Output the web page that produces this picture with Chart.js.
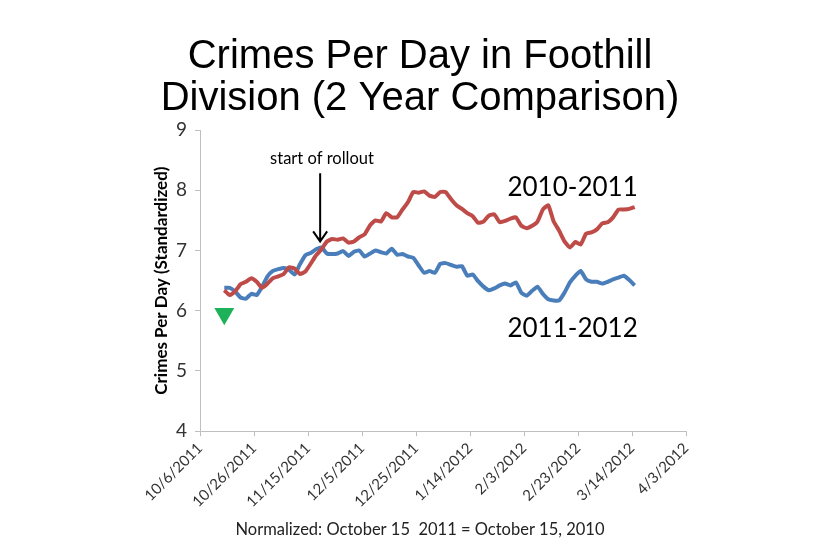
<!DOCTYPE html>
<html>
<head>
<meta charset="utf-8">
<title>Crimes Per Day in Foothill Division</title>
<script src="https://cdn.jsdelivr.net/npm/chart.js@4.4.1/dist/chart.umd.min.js"></script>
<style>
  body { margin: 0; background: #fff; }
  #caja { width: 840px; height: 560px; }
</style>
</head>
<body>
<div id="caja"><canvas id="graf" width="840" height="560"></canvas></div>
<script>
// dias desde 10/6/2011 (eje x)
let dias = [9, 11, 13, 15, 17, 19, 21, 23, 25, 27, 29, 31, 33, 35, 37, 39, 41, 43, 45, 47,
  49, 51, 53, 55, 57, 59, 61, 63, 65, 67, 69, 71, 73, 75, 77, 79, 81, 83, 85, 87,
  89, 91, 93, 95, 97, 99, 101, 103, 105, 107, 109, 111, 113, 115, 117, 119, 121, 123, 125, 127,
  129, 131, 133, 135, 137, 139, 141, 143, 145, 147, 149, 151, 153, 155, 157, 159, 161];

let nombres = ['2010-2011', '2011-2012'];

let valores2010 = [6.34, 6.26, 6.32, 6.44, 6.48, 6.54, 6.48, 6.38, 6.45, 6.54,
  6.57, 6.61, 6.72, 6.70, 6.61, 6.65, 6.78, 6.92, 7.02, 7.15,
  7.19, 7.18, 7.20, 7.13, 7.15, 7.22, 7.27, 7.42, 7.50, 7.48,
  7.62, 7.55, 7.55, 7.68, 7.80, 7.97, 7.96, 7.98, 7.91, 7.89,
  7.97, 7.97, 7.85, 7.75, 7.69, 7.62, 7.57, 7.46, 7.48, 7.58,
  7.60, 7.47, 7.49, 7.53, 7.55, 7.41, 7.37, 7.41, 7.48, 7.68,
  7.75, 7.48, 7.33, 7.15, 7.05, 7.14, 7.10, 7.28, 7.30, 7.35,
  7.45, 7.47, 7.55, 7.68, 7.68, 7.69, 7.72];

let valores2011 = [6.38, 6.38, 6.32, 6.22, 6.20, 6.28, 6.26, 6.40, 6.57, 6.66,
  6.69, 6.71, 6.68, 6.60, 6.77, 6.92, 6.96, 7.02, 7.05, 6.95,
  6.94, 6.95, 6.99, 6.91, 6.98, 7.00, 6.90, 6.95, 7.00, 6.97,
  6.95, 7.03, 6.93, 6.94, 6.90, 6.88, 6.75, 6.63, 6.66, 6.63,
  6.78, 6.79, 6.76, 6.73, 6.74, 6.58, 6.60, 6.49, 6.40, 6.34,
  6.37, 6.42, 6.45, 6.42, 6.47, 6.30, 6.25, 6.33, 6.40, 6.28,
  6.19, 6.17, 6.17, 6.30, 6.47, 6.58, 6.66, 6.52, 6.48, 6.48,
  6.45, 6.48, 6.52, 6.55, 6.58, 6.51, 6.42];

// triangulo verde
let diaMarca = [9];
let valorMarca = [5.95];

let etiquetasX = ['10/6/2011', '10/26/2011', '11/15/2011', '12/5/2011', '12/25/2011',
  '1/14/2012', '2/3/2012', '2/23/2012', '3/14/2012', '4/3/2012'];

let diaRollout = 44.5;

function puntos(xs, ys) {
  return xs.map((d, i) => ({ x: d, y: ys[i] }));
}

const rojo = '#be4b48';
const azul = '#4a7ebb';

// flecha y textos encima del grafico
const notas = {
  id: 'notas',
  afterDatasetsDraw(chart) {
    let ctx = chart.ctx;
    let sx = chart.scales.x;
    let sy = chart.scales.y;
    ctx.save();
    let ax = sx.getPixelForValue(diaRollout);
    let y1 = sy.getPixelForValue(8.28);
    let y2 = sy.getPixelForValue(7.15);
    ctx.strokeStyle = '#000';
    ctx.lineWidth = 2;
    ctx.beginPath();
    ctx.moveTo(ax, y1);
    ctx.lineTo(ax, y2);
    ctx.moveTo(ax - 7, y2 - 10);
    ctx.lineTo(ax, y2);
    ctx.lineTo(ax + 7, y2 - 10);
    ctx.stroke();

    ctx.fillStyle = '#000';
    ctx.textAlign = 'center';
    ctx.textBaseline = 'middle';
    ctx.font = '16.5px Lato';
    ctx.fillText('start of rollout', sx.getPixelForValue(45.2), sy.getPixelForValue(8.53));
    ctx.font = '26px Lato';
    ctx.fillText(nombres[0], sx.getPixelForValue(138), sy.getPixelForValue(8.04));
    ctx.fillText(nombres[1], sx.getPixelForValue(138), sy.getPixelForValue(5.71));
    ctx.restore();
  }
};

let ctx = document.getElementById('graf').getContext('2d');
let graf = new Chart(ctx, {
  type: 'line',
  data: {
    datasets: [
      {
        label: nombres[0],
        data: puntos(dias, valores2010),
        borderColor: rojo,
        borderWidth: 4,
        pointRadius: 0,
        tension: 0.15
      },
      {
        label: nombres[1],
        data: puntos(dias, valores2011),
        borderColor: azul,
        borderWidth: 4,
        pointRadius: 0,
        tension: 0.15
      },
      {
        label: 'marca',
        data: puntos(diaMarca, valorMarca),
        showLine: false,
        pointStyle: 'triangle',
        rotation: 180,
        pointRadius: 11.5,
        pointBackgroundColor: '#1db25a',
        pointBorderWidth: 0
      }
    ]
  },
  options: {
    responsive: false,
    animation: false,
    plugins: {
      legend: { display: false },
      tooltip: { enabled: false },
      title: {
        display: true,
        text: ['Crimes Per Day in Foothill', 'Division (2 Year Comparison)'],
        color: '#000',
        font: { family: 'Liberation Sans', size: 40, weight: 'normal', lineHeight: 1.05 },
        padding: { top: 36, bottom: 10 }
      },
      subtitle: {
        display: true,
        position: 'bottom',
        text: 'Normalized: October 15  2011 = October 15, 2010',
        color: '#222',
        font: { family: 'Lato', size: 16.5 },
        padding: { top: 5, bottom: 20 }
      }
    },
    scales: {
      x: {
        type: 'linear',
        min: 0,
        max: 180,
        ticks: {
          stepSize: 20,
          autoSkip: false,
          minRotation: 45,
          maxRotation: 45,
          color: '#333',
          font: { family: 'Lato', size: 15 },
          callback: (v, i) => etiquetasX[i]
        },
        grid: { drawOnChartArea: false, tickLength: 5, color: '#bfbfbf' },
        border: { color: '#bfbfbf' },
        afterFit: (s) => { s.height = 84; }
      },
      y: {
        min: 4,
        max: 9,
        ticks: {
          stepSize: 1,
          padding: 8,
          color: '#333',
          font: { family: 'Lato', size: 19 }
        },
        grid: { drawOnChartArea: false, tickLength: 5, color: '#bfbfbf' },
        border: { color: '#bfbfbf' },
        title: {
          display: true,
          text: 'Crimes Per Day (Standardized)',
          color: '#000',
          font: { family: 'Lato', size: 17, weight: 'bold' },
          padding: { top: 151, bottom: 0 }
        },
        afterFit: (s) => { s.width = 200; }
      },
      // eje vacio para dejar espacio a la derecha
      derecha: {
        position: 'right',
        min: 4,
        max: 9,
        ticks: { display: false },
        grid: { display: false },
        border: { display: false },
        afterFit: (s) => { s.width = 154; }
      }
    }
  },
  plugins: [notas]
});
</script>
</body>
</html>
